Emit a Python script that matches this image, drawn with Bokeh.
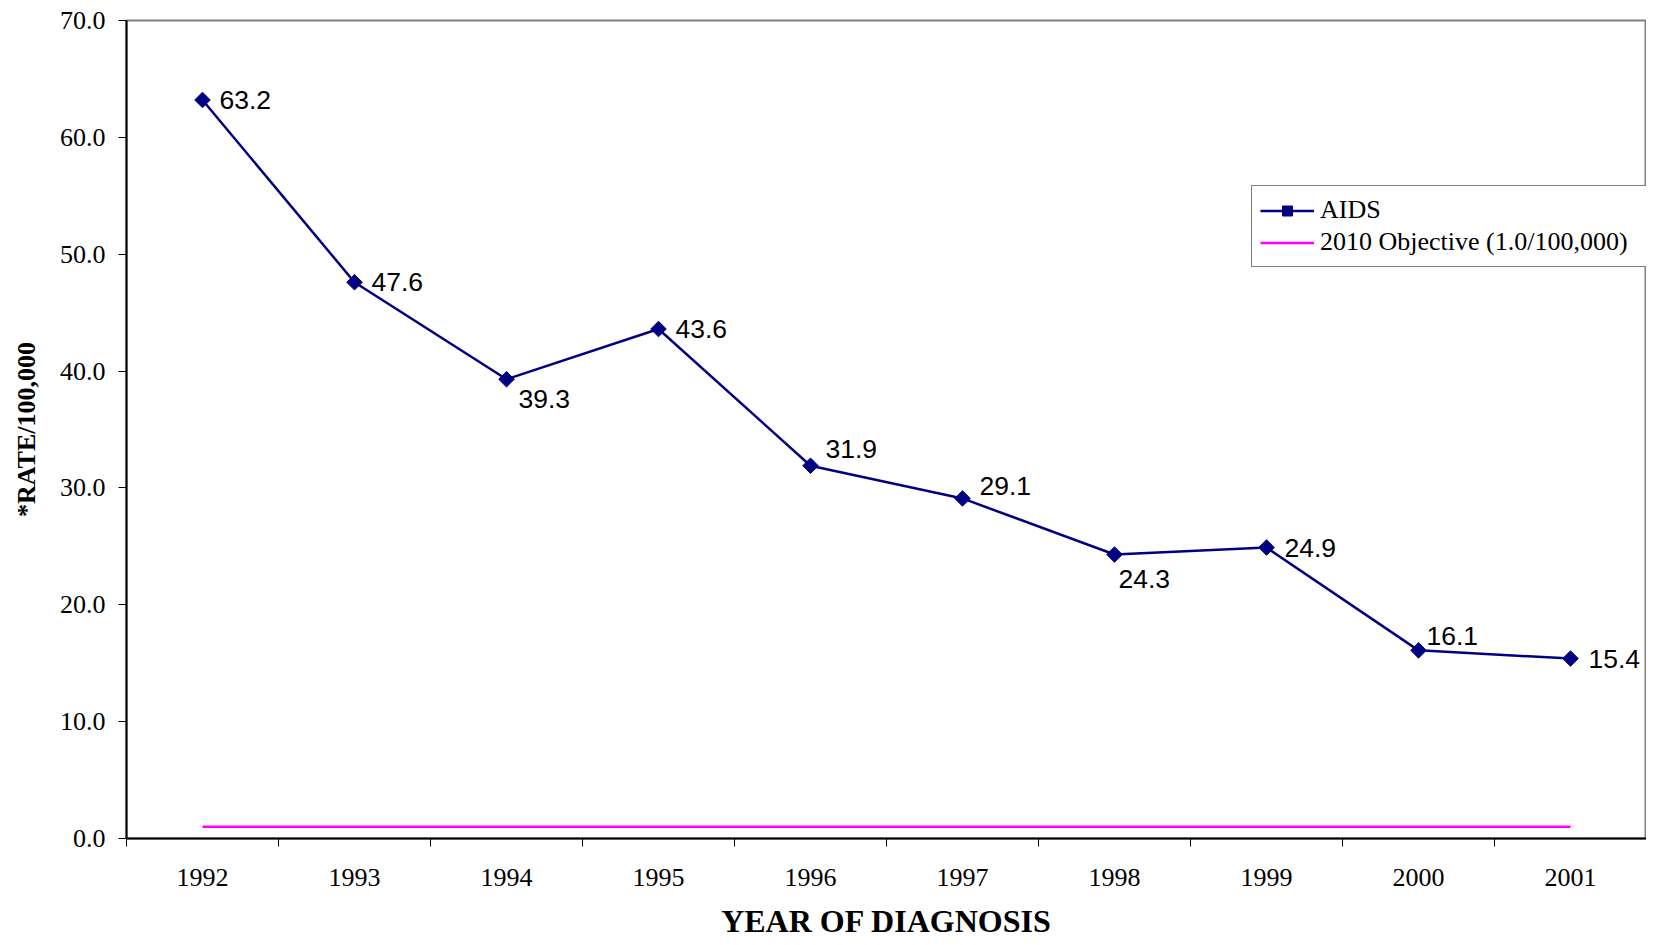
import numpy as np
from bokeh.plotting import figure
from bokeh.models import (ColumnDataSource, FixedTicker, Legend, LegendItem,
                          Range1d, PrintfTickFormatter)
from bokeh.embed import file_html
from bokeh.resources import INLINE
from bokeh.core.properties import value

# ---- data ----
years = [1992, 1993, 1994, 1995, 1996, 1997, 1998, 1999, 2000, 2001]
aids_rate = [63.2, 47.6, 39.3, 43.6, 31.9, 29.1, 24.3, 24.9, 16.1, 15.4]
objective_rate = [1.0, 1.0, 1.0, 1.0, 1.0, 1.0, 1.0, 1.0, 1.0, 1.0]
y_ticks = [0, 10, 20, 30, 40, 50, 60, 70]
value_labels = ["63.2", "47.6", "39.3", "43.6", "31.9", "29.1", "24.3", "24.9", "16.1", "15.4"]
x_title = "YEAR OF DIAGNOSIS"
y_title = "*RATE/100,000"

# ---- label placement (styling) ----
label_dx = [17, 17, 12, 17, 15, 17, 4, 18, 8, 18]
label_dy = [0, 0, 20, 0, -17, -12, 24, 0, -14, 0]

src = ColumnDataSource(dict(x=years, y=aids_rate, obj=objective_rate,
                            lab=value_labels, dx=label_dx, dy=label_dy))

p = figure(width=1646, height=941, output_backend="svg", toolbar_location=None,
           x_range=Range1d(years[0] - 0.5, years[-1] + 0.5),
           y_range=Range1d(y_ticks[0], y_ticks[-1]),
           min_border_left=126, min_border_right=0, min_border_top=20,
           min_border_bottom=103)
p.background_fill_color = "white"
p.border_fill_color = "white"
p.xgrid.visible = False
p.ygrid.visible = False
p.outline_line_color = "#808080"
p.outline_line_width = 2

serif = "Liberation Serif"
sans = "Liberation Sans"

# x axis: labels at categories, ticks between categories
p.xaxis.ticker = FixedTicker(ticks=years,
                             minor_ticks=[y - 0.5 for y in years] + [years[-1] + 0.5])
p.xaxis.major_tick_out = 8
p.xaxis.major_tick_in = 0
p.xaxis.minor_tick_line_color = "black"
p.xaxis.minor_tick_out = 8
p.xaxis.minor_tick_in = 0
p.xaxis.major_label_overrides = {y: str(y) for y in years}
p.xaxis.major_label_standoff = 22
p.xaxis.axis_label = x_title
p.xaxis.axis_label_text_font = serif
p.xaxis.axis_label_text_font_size = "32px"
p.xaxis.axis_label_text_font_style = "bold"
p.xaxis.axis_label_standoff = 14

p.yaxis.ticker = FixedTicker(ticks=y_ticks)
p.yaxis.formatter = PrintfTickFormatter(format="%.1f")
p.yaxis.minor_tick_line_color = None
p.yaxis.major_tick_out = 8
p.yaxis.major_tick_in = 0
p.yaxis.major_label_standoff = 13
p.yaxis.axis_label = y_title
p.yaxis.axis_label_text_font = serif
p.yaxis.axis_label_text_font_size = "26px"
p.yaxis.axis_label_text_font_style = "bold"
p.yaxis.axis_label_standoff = 16

for ax in (p.xaxis, p.yaxis):
    ax.axis_line_color = "black"
    ax.axis_line_width = 2
    ax.major_label_text_font = serif
    ax.major_label_text_font_size = "26px"
    ax.major_label_text_color = "black"
    ax.axis_label_text_color = "black"
p.yaxis.major_tick_line_color = "black"
p.xaxis.major_tick_line_color = None

obj_line = p.line("x", "obj", source=src, line_color="#FF00FF", line_width=2.5)
aids_line = p.line("x", "y", source=src, line_color="#000080", line_width=2.5)
aids_pts = p.scatter("x", "y", source=src, marker="square", angle=np.pi / 4,
                     size=11, fill_color="#000080", line_color="#000080")

p.text("x", "y", text="lab", source=src, x_offset="dx", y_offset="dy",
       text_font=value(sans), text_font_size="26.5px", text_color="black",
       text_align="left", text_baseline="middle")

legend = Legend(items=[LegendItem(label="AIDS", renderers=[aids_line, aids_pts]),
                       LegendItem(label="2010 Objective (1.0/100,000)", renderers=[obj_line])],
                location=(1125, 571), orientation="vertical")
legend.label_text_font = serif
legend.label_text_font_size = "26px"
legend.label_text_color = "black"
legend.border_line_color = "black"
legend.border_line_width = 1
legend.background_fill_color = "white"
legend.background_fill_alpha = 1.0
legend.glyph_width = 54
legend.glyph_height = 25
legend.label_height = 32
legend.label_width = 318
legend.label_standoff = 6
legend.padding = 8
legend.spacing = 0
legend.margin = 0
p.add_layout(legend)

open("out.html", "w").write(file_html(p, INLINE))
